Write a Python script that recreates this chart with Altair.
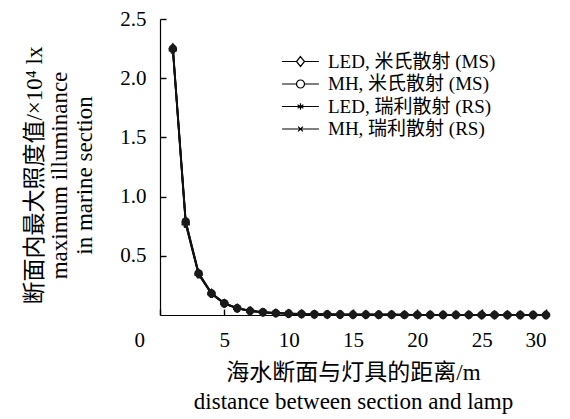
import altair as alt
import pandas as pd

# ---- data ----
distance = list(range(1, 31))
series_names = ["LED, 米氏散射 (MS)", "MH, 米氏散射 (MS)", "LED, 瑞利散射 (RS)", "MH, 瑞利散射 (RS)"]
led_ms = [2.26, 0.79, 0.355, 0.185, 0.100, 0.058, 0.036, 0.024, 0.017, 0.012,
          0.009, 0.007, 0.005, 0.004, 0.003, 0.003, 0.002, 0.002, 0.002, 0.001,
          0.001, 0.001, 0.001, 0.001, 0.001, 0.001, 0.001, 0.000, 0.000, 0.000]
mh_ms = [2.25, 0.79, 0.352, 0.183, 0.099, 0.057, 0.035, 0.024, 0.016, 0.012,
         0.009, 0.006, 0.005, 0.004, 0.003, 0.003, 0.002, 0.002, 0.001, 0.001,
         0.001, 0.001, 0.001, 0.001, 0.001, 0.001, 0.000, 0.000, 0.000, 0.000]
led_rs = [2.24, 0.77, 0.345, 0.180, 0.097, 0.056, 0.034, 0.023, 0.016, 0.011,
          0.008, 0.006, 0.005, 0.004, 0.003, 0.002, 0.002, 0.002, 0.001, 0.001,
          0.001, 0.001, 0.001, 0.001, 0.001, 0.000, 0.000, 0.000, 0.000, 0.000]
mh_rs = [2.24, 0.77, 0.343, 0.179, 0.096, 0.056, 0.034, 0.023, 0.016, 0.011,
         0.008, 0.006, 0.005, 0.004, 0.003, 0.002, 0.002, 0.002, 0.001, 0.001,
         0.001, 0.001, 0.001, 0.001, 0.000, 0.000, 0.000, 0.000, 0.000, 0.000]
x_ticks = [0, 5, 10, 15, 20, 25, 30]
y_ticks = [0.5, 1.0, 1.5, 2.0, 2.5]
y_title = ["断面内最大照度值/×10⁴ lx", "maximum illuminance", "in marine section"]
x_title = ["海水断面与灯具的距离/m", "distance between section and lamp"]

rows = []
for name, vals in zip(series_names, [led_ms, mh_ms, led_rs, mh_rs]):
    for d, v in zip(distance, vals):
        rows.append({"distance": d, "value": v, "series": name})
df = pd.DataFrame(rows)

FONT = "Liberation Serif, Times New Roman, Noto Sans CJK SC"

# marker shapes in the plot
plot_shapes = [
    "M0,-1.2L0.85,0L0,1.2L-0.85,0Z",
    "circle",
    "M0,-1L0.25,-0.35L0.95,-0.3L0.4,0.15L0.6,0.85L0,0.45L-0.6,0.85L-0.4,0.15L-0.95,-0.3L-0.25,-0.35Z",
    "cross",
]
# legend symbols: short line with marker in the middle
legend_shapes = [
    "M-2.3,0H-0.5M0.5,0H2.3M0,-0.62L0.5,0L0,0.62L-0.5,0Z",
    "M-2.3,0H-0.5M0.5,0H2.3M0.5,0A0.5,0.5 0 1,1 -0.5,0A0.5,0.5 0 1,1 0.5,0Z",
    "M-2.3,0H2.3M0,-0.42V0.42M-0.36,-0.21L0.36,0.21M-0.36,0.21L0.36,-0.21",
    "M-2.3,0H2.3M-0.3,-0.3L0.3,0.3M-0.3,0.3L0.3,-0.3",
]

x_enc = alt.X(
    "distance:Q",
    scale=alt.Scale(domain=[0, 30], nice=False, zero=True),
    axis=alt.Axis(
        values=x_ticks,
        title=x_title,
        titleX=193,
        titleY=46,
        titleAlign="center",
        titleBaseline="top",
        titleLineHeight=29,
        tickSize=alt.ExprRef("-6"),
        labelOffset={"condition": {"test": "datum.value === 0", "value": -26}, "value": 0},
    ),
)
y_enc = alt.Y(
    "value:Q",
    scale=alt.Scale(domain=[0, 2.5], nice=False),
    axis=alt.Axis(
        values=y_ticks,
        format=".1f",
        title=y_title,
        titleX=-137,
        titleY=156,
        titleAngle=270,
        titleAlign="center",
        titleBaseline="top",
        titleLineHeight=25,
        tickSize=alt.ExprRef("-6"),
    ),
)

lines = alt.Chart(df).mark_line(color="#111111", strokeWidth=1.8).encode(
    x=x_enc, y=y_enc, detail="series:N"
)

points = alt.Chart(df).mark_point(filled=True, color="#1a1a1a", size=70, opacity=1).encode(
    x="distance:Q",
    y="value:Q",
    shape=alt.Shape("series:N", scale=alt.Scale(domain=series_names, range=plot_shapes), legend=None),
)

legend_layer = (
    alt.Chart(df)
    .transform_filter("datum.distance < 0")
    .mark_point(filled=False, color="black", size=256, strokeWidth=1.2, opacity=1)
    .encode(
        x="distance:Q",
        y="value:Q",
        shape=alt.Shape(
            "series:N",
            scale=alt.Scale(domain=series_names, range=legend_shapes),
            legend=alt.Legend(
                title=None,
                orient="none",
                legendX=131,
                legendY=33,
                symbolSize=256,
                symbolOpacity=1,
                symbolStrokeColor="black",
                symbolStrokeWidth=1.2,
                labelOffset=18,
                labelFontSize=19,
                labelFont=FONT,
                labelColor="black",
                rowPadding=2.5,
                padding=0,
                labelLimit=400,
            ),
        ),
    )
)

chart = (
    alt.layer(lines, points, legend_layer)
    .resolve_scale(shape="independent")
    .properties(
        width=386,
        height=296,
        autosize=alt.AutoSizeParams(type="none"),
        padding={"left": 152, "top": 11, "right": 16, "bottom": 104},
    )
    .configure_view(stroke=None)
    .configure_axis(
        grid=False,
        domainColor="black",
        domainWidth=1.2,
        tickColor="black",
        tickWidth=1.4,
        labelFont=FONT,
        labelFontSize=21,
        labelColor="black",
        labelPadding=20,
        titleFont=FONT,
        titleFontSize=23,
        titleFontWeight="normal",
        titleColor="black",
    )
)

chart.save("out.html", embed_options={"renderer": "svg", "actions": False})
